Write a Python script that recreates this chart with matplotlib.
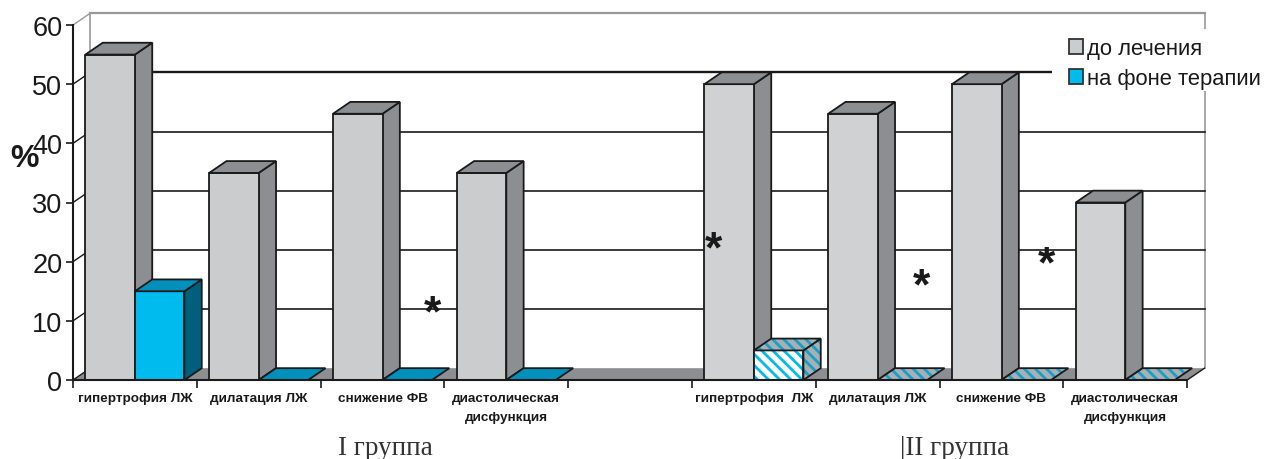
import matplotlib
matplotlib.use("Agg")
import matplotlib.pyplot as plt
from matplotlib.patches import Patch, Polygon, Rectangle

# Values per category, None marks the empty slot between the two groups
categories = ["гипертрофия ЛЖ", "дилатация ЛЖ", "снижение ФВ", "диастолическая\nдисфункция", "",
              "гипертрофия  ЛЖ", "дилатация ЛЖ", "снижение ФВ", "диастолическая\nдисфункция"]
before = [55, 35, 45, 35, None, 50, 45, 50, 30]
after = [15, 0, 0, 0, None, 5, 0, 0, 0]
y_ticks = [0, 10, 20, 30, 40, 50, 60]
group_names = ["I группа", "|II группа"]
series_names = ["до лечения", "на фоне терапии"]

# fake 3d depth, in data units
DEPTH_X = 0.14
DEPTH_Y = 2.0
BAR_W = 0.4
BAR_OFFSET = 0.1

GREY_FRONT = "#cbccce"
GREY_FRONT_2 = "#d0d1d3"
GREY_DARK = "#8c8e91"
BLUE_FRONT = "#00bbee"
BLUE_TOP = "#0090bb"
BLUE_SIDE = "#005f7d"
HATCH_BG = "#a8b0b5"
HATCH_LINE = "#14a0c8"
INK = "#1a1a1a"

plt.rcParams["font.family"] = ["Liberation Sans", "DejaVu Sans"]
plt.rcParams["hatch.linewidth"] = 2.0


def face(ax, pts, color, z, hatch_bg=None):
    # hatched faces need a fill, the stripes and the outline drawn separately
    if hatch_bg is not None:
        ax.add_patch(Polygon(pts, closed=True, facecolor=hatch_bg, edgecolor=color,
                             hatch="\\\\\\", linewidth=0, zorder=z, clip_on=False))
        ax.add_patch(Polygon(pts, closed=True, fill=False, edgecolor=INK,
                             linewidth=1.3, zorder=z, clip_on=False))
    else:
        ax.add_patch(Polygon(pts, closed=True, facecolor=color, edgecolor=INK,
                             linewidth=1.3, zorder=z, clip_on=False))


def box(ax, x, h, front, top, side, z, hatch_front=None, hatch_faces=None):
    w = BAR_W
    if h > 0:
        front_pts = [(x, 0), (x + w, 0), (x + w, h), (x, h)]
        side_pts = [(x + w, 0), (x + w + DEPTH_X, DEPTH_Y), (x + w + DEPTH_X, h + DEPTH_Y), (x + w, h)]
        face(ax, side_pts, side, z, hatch_faces)
        face(ax, front_pts, front, z + 0.1, hatch_front)
    top_pts = [(x, h), (x + w, h), (x + w + DEPTH_X, h + DEPTH_Y), (x + DEPTH_X, h + DEPTH_Y)]
    face(ax, top_pts, top, z + 0.1, hatch_faces)


fig = plt.figure(figsize=(12.65, 4.6), dpi=100)
ax = fig.add_axes([73 / 1265, 79 / 460, 9 * 123.8 / 1265, 355 / 460])
ax.set_xlim(0, 9)
ax.set_ylim(0, 60)

for s in ["top", "right"]:
    ax.spines[s].set_visible(False)
for s in ["left", "bottom"]:
    ax.spines[s].set_linewidth(1.5)
    ax.spines[s].set_color(INK)
    ax.spines[s].set_zorder(30)

# floor and walls
ax.add_patch(Polygon([(0, 0), (9, 0), (9 + DEPTH_X, DEPTH_Y), (DEPTH_X, DEPTH_Y)], closed=True,
                     facecolor=GREY_DARK, edgecolor="none", zorder=1, clip_on=False))
ax.plot([DEPTH_X, DEPTH_X], [DEPTH_Y, 60 + DEPTH_Y], color="#999999", lw=1.2, zorder=1, clip_on=False)
ax.plot([9 + DEPTH_X, 9 + DEPTH_X], [DEPTH_Y, 60 + DEPTH_Y], color="#999999", lw=1.2, zorder=1, clip_on=False)
ax.plot([DEPTH_X, 9 + DEPTH_X], [60 + DEPTH_Y, 60 + DEPTH_Y], color="#999999", lw=1.6, zorder=1, clip_on=False)
ax.plot([9, 9 + DEPTH_X], [0, DEPTH_Y], color=INK, lw=1.0, zorder=2, clip_on=False)

# gridlines on the back wall, with the short diagonals on the side wall
for v in y_ticks[1:-1]:
    ax.plot([DEPTH_X, 9 + DEPTH_X], [v + DEPTH_Y, v + DEPTH_Y], color=INK,
            lw=1.7 if v == 50 else 1.2, zorder=2, clip_on=False)
for v in y_ticks:
    col = "#999999" if v == 60 else INK
    ax.plot([0, DEPTH_X], [v, v + DEPTH_Y], color=col, lw=1.0, zorder=2, clip_on=False)

for i, (b, a) in enumerate(zip(before, after)):
    if b is None:
        continue
    x = i + BAR_OFFSET
    z = 5 + i
    box(ax, x, b, GREY_FRONT if i < 4 else GREY_FRONT_2, GREY_DARK, GREY_DARK, z)
    if i < 4:
        box(ax, x + BAR_W, a, BLUE_FRONT, BLUE_TOP, BLUE_SIDE, z + 0.3)
    else:
        box(ax, x + BAR_W, a, BLUE_FRONT, HATCH_LINE, HATCH_LINE, z + 0.3,
            hatch_front="white", hatch_faces=HATCH_BG)

ax.set_yticks(y_ticks)
ax.tick_params(axis="y", labelsize=19.5, length=5, width=1.2, pad=2.6, color=INK, labelcolor=INK)
ax.set_xticks(range(10))
ax.set_xticklabels([])
ax.tick_params(axis="x", which="major", length=6, width=1.2, color=INK)
ax.set_xticks([i + 0.5 for i in range(9)], minor=True)
ax.set_xticklabels(categories, minor=True, fontsize=9.7, fontweight="bold", color=INK, linespacing=1.75)
ax.tick_params(axis="x", which="minor", length=0, pad=8.5)

ax.text(-0.395, 37.6, "%", fontsize=23, fontweight="bold", color=INK, ha="center", va="center")

# significance marks
for sx, sy in [(2.9, 11.2), (5.17, 22.0), (6.85, 15.7), (7.86, 19.4)]:
    ax.text(sx, sy, "*", fontsize=32, fontweight="bold", color=INK, ha="center", va="center", zorder=25)

ax.text(2.52, -11.4, group_names[0], fontsize=19.5, family="Liberation Serif", color="#333333",
        ha="center", va="center")
ax.text(7.12, -11.4, group_names[1], fontsize=19.5, family="Liberation Serif", color="#333333",
        ha="center", va="center")

# white block behind the legend cuts the wall and the top gridline
fig.add_artist(Rectangle((1052 / 1265, 1 - 92 / 460), 213 / 1265, 62 / 460, transform=fig.transFigure,
                         facecolor="white", edgecolor="none", zorder=10))
handles = [Patch(facecolor=GREY_FRONT, edgecolor="#333333", linewidth=1.3, label=series_names[0]),
           Patch(facecolor=BLUE_FRONT, edgecolor="#333333", linewidth=1.3, label=series_names[1])]
leg = fig.legend(handles=handles, loc="upper left", bbox_to_anchor=(1069 / 1265, 1 - 39 / 460),
                 bbox_transform=fig.transFigure, borderaxespad=0, frameon=False, fontsize=15.8,
                 handlelength=0.64, handleheight=0.64, handletextpad=0.18, labelspacing=0.42,
                 borderpad=0, labelcolor=INK)
leg.set_zorder(20)

plt.savefig("out.png", dpi=100)
